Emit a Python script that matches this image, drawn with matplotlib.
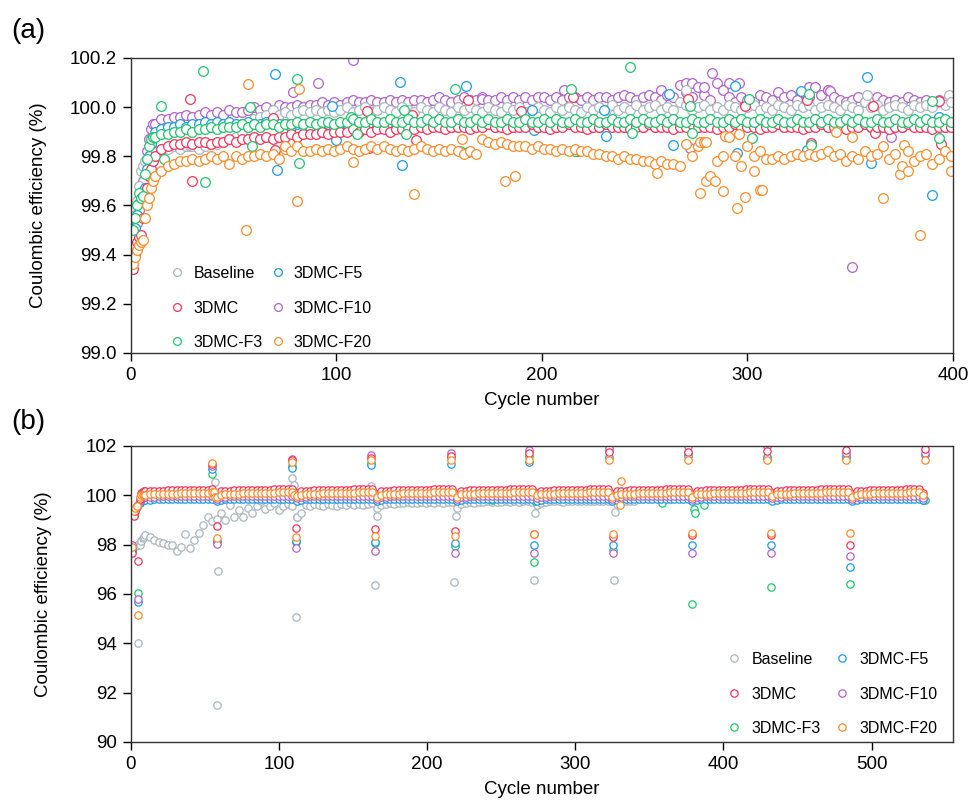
import numpy as np
import matplotlib.pyplot as plt

plt.rcParams['font.family'] = ['Liberation Sans', 'DejaVu Sans']

labels = ["Baseline", "3DMC", "3DMC-F3", "3DMC-F5", "3DMC-F10", "3DMC-F20"]
colors = ["#a9b6bf", "#f2355c", "#20c46c", "#1d9ce0", "#b064c9", "#f78d2c"]

# ---------------- (a) cycles 1-11 one by one, then every 3rd cycle ----------------
cyc_a = np.r_[1:12, 12:400:3]

base_a = [99.50, 99.56, 99.62, 99.68, 99.74, 99.76, 99.78, 99.79, 99.80, 99.81, 99.82,
          99.82, 99.83, 99.83, 99.84, 99.83, 99.84, 99.84, 99.83, 99.84, 99.85,
          99.85, 99.86, 99.87, 99.88, 99.90, 99.92, 99.95, 99.96, 99.97, 99.99,
          99.97, 99.98, 99.97, 99.98, 99.99, 99.98, 99.99, 99.98, 99.99, 99.98,
          99.99, 100.00, 99.98, 99.99, 100.00, 99.98, 99.99, 100.00, 99.99, 99.98,
          100.00, 99.99, 99.98, 100.00, 99.99, 99.98, 100.00, 99.99, 99.98, 100.00,
          99.99, 100.00, 99.99, 99.98, 100.00, 99.99, 99.98, 100.00, 99.99, 100.00,
          99.98, 99.99, 100.00, 99.99, 99.98, 100.00, 99.99, 100.00, 99.99, 99.98,
          100.00, 99.99, 100.00, 99.99, 100.01, 99.99, 100.00, 99.99, 100.01, 99.99,
          100.00, 100.01, 99.99, 100.00, 99.99, 100.02, 100.01, 99.99, 100.00, 100.01,
          99.99, 100.00, 99.99, 100.01, 100.00, 99.99, 100.00, 100.01, 99.99, 100.00,
          99.99, 100.01, 100.00, 99.99, 100.01, 100.00, 100.01, 99.99, 100.00, 100.01,
          100.00, 99.99, 100.01, 100.00, 99.99, 100.02, 100.00, 100.01, 99.99, 100.00,
          100.01, 100.00, 99.99, 100.01, 100.00, 100.01, 100.00, 100.02, 100.01, 100.02]
dmc_a = [99.34, 99.40, 99.45, 99.47, 99.48, 99.55, 99.62, 99.67, 99.72, 99.75, 99.78,
         99.80, 99.83, 99.84, 99.85, 99.85, 99.86, 99.85, 99.86, 99.86, 99.85,
         99.86, 99.86, 99.87, 99.86, 99.87, 99.87, 99.88, 99.87, 99.88, 99.87,
         99.88, 99.88, 99.89, 99.88, 99.89, 99.89, 99.89, 99.90, 99.89, 99.90,
         99.90, 99.90, 99.91, 99.90, 99.91, 99.90, 99.91, 99.91, 99.90, 99.91,
         99.91, 99.92, 99.91, 99.92, 99.91, 99.92, 99.92, 99.91, 99.92, 99.92,
         99.92, 99.91, 99.92, 99.92, 99.93, 99.92, 99.92, 99.91, 99.92, 99.92,
         99.92, 99.93, 99.92, 99.92, 99.91, 99.92, 99.92, 99.93, 99.92, 99.92,
         99.91, 99.92, 99.92, 99.93, 99.92, 99.92, 99.92, 99.91, 99.92, 99.92,
         99.93, 99.92, 99.92, 99.92, 99.91, 99.92, 99.92, 99.93, 99.92, 99.92,
         99.92, 99.91, 99.92, 99.92, 99.93, 99.92, 99.92, 99.92, 99.91, 99.92,
         99.92, 99.93, 99.92, 99.92, 99.92, 99.91, 99.92, 99.92, 99.93, 99.92,
         99.92, 99.92, 99.91, 99.92, 99.92, 99.93, 99.92, 99.92, 99.92, 99.91,
         99.92, 99.92, 99.93, 99.92, 99.92, 99.92, 99.91, 99.92, 99.92, 99.92]
f3_a = [99.50, 99.55, 99.60, 99.65, 99.63, 99.64, 99.73, 99.79, 99.84, 99.87, 99.88,
        99.88, 99.89, 99.89, 99.90, 99.90, 99.91, 99.90, 99.91, 99.91, 99.92,
        99.91, 99.92, 99.92, 99.92, 99.93, 99.92, 99.93, 99.92, 99.93, 99.93,
        99.92, 99.93, 99.93, 99.94, 99.93, 99.94, 99.93, 99.94, 99.94, 99.93,
        99.94, 99.94, 99.95, 99.94, 99.94, 99.95, 99.94, 99.94, 99.95, 99.94,
        99.94, 99.95, 99.94, 99.94, 99.95, 99.94, 99.95, 99.94, 99.94, 99.95,
        99.94, 99.94, 99.95, 99.94, 99.95, 99.94, 99.94, 99.95, 99.94, 99.94,
        99.95, 99.94, 99.94, 99.95, 99.94, 99.95, 99.94, 99.94, 99.95, 99.94,
        99.94, 99.95, 99.94, 99.94, 99.95, 99.94, 99.94, 99.95, 99.94, 99.95,
        99.94, 99.94, 99.95, 99.94, 99.95, 99.94, 99.94, 99.95, 99.94, 99.94,
        99.95, 99.94, 99.94, 99.95, 99.94, 99.95, 99.94, 99.94, 99.95, 99.94,
        99.94, 99.95, 99.94, 99.94, 99.95, 99.94, 99.94, 99.95, 99.94, 99.95,
        99.94, 99.94, 99.95, 99.94, 99.95, 99.94, 99.94, 99.95, 99.94, 99.94,
        99.95, 99.94, 99.94, 99.95, 99.94, 99.95, 99.94, 99.94, 99.95, 99.94]
f5_a = [99.47, 99.51, 99.56, 99.61, 99.64, 99.66, 99.67, 99.75, 99.80, 99.85, 99.88,
        99.90, 99.91, 99.92, 99.92, 99.93, 99.92, 99.93, 99.93, 99.94, 99.93,
        99.94, 99.93, 99.94, 99.93, 99.93, 99.94, 99.93, 99.93, 99.94, 99.93,
        99.93, 99.93, 99.92, 99.93, 99.93, 99.92, 99.93, 99.93, 99.93, 99.92,
        99.93, 99.93, 99.92, 99.93, 99.93, 99.93, 99.92, 99.93, 99.93, 99.92,
        99.93, 99.92, 99.93, 99.93, 99.92, 99.93, 99.93, 99.93, 99.92, 99.93,
        99.93, 99.92, 99.93, 99.93, 99.93, 99.92, 99.93, 99.93, 99.92, 99.93,
        99.93, 99.93, 99.92, 99.93, 99.93, 99.92, 99.93, 99.93, 99.93, 99.92,
        99.93, 99.93, 99.92, 99.93, 99.93, 99.93, 99.92, 99.93, 99.93, 99.92,
        99.93, 99.92, 99.93, 99.93, 99.92, 99.93, 99.93, 99.93, 99.92, 99.93,
        99.93, 99.92, 99.93, 99.93, 99.93, 99.92, 99.93, 99.93, 99.92, 99.93,
        99.93, 99.93, 99.92, 99.93, 99.93, 99.92, 99.93, 99.93, 99.93, 99.92,
        99.93, 99.93, 99.92, 99.93, 99.93, 99.93, 99.92, 99.93, 99.93, 99.92,
        99.93, 99.92, 99.93, 99.93, 99.92, 99.93, 99.93, 99.93, 99.92, 99.93]
f10_a = [99.44, 99.48, 99.53, 99.58, 99.64, 99.70, 99.76, 99.82, 99.87, 99.91, 99.93,
         99.93, 99.95, 99.95, 99.96, 99.96, 99.97, 99.96, 99.97, 99.98, 99.97,
         99.98, 99.97, 99.99, 99.98, 99.98, 99.99, 100.00, 99.99, 100.00, 99.99,
         100.01, 100.00, 100.00, 100.01, 100.00, 100.01, 100.01, 100.02, 100.01, 100.02,
         100.01, 100.02, 100.03, 100.02, 100.02, 100.03, 100.02, 100.02, 100.03, 100.02,
         100.03, 100.02, 100.03, 100.03, 100.02, 100.03, 100.04, 100.03, 100.02, 100.03,
         100.04, 100.03, 100.03, 100.04, 100.03, 100.03, 100.04, 100.03, 100.04, 100.03,
         100.04, 100.03, 100.04, 100.04, 100.03, 100.04, 100.03, 100.04, 100.04, 100.03,
         100.04, 100.03, 100.04, 100.04, 100.03, 100.04, 100.05, 100.04, 100.03, 100.04,
         100.05, 100.04, 100.03, 100.05, 100.04, 100.09, 100.06, 100.04, 100.08, 100.05,
         100.03, 100.10, 100.07, 100.04, 100.02, 100.04, 100.03, 100.02, 100.05, 100.04,
         100.03, 100.06, 100.04, 100.05, 100.03, 100.06, 100.04, 100.08, 100.05, 100.07,
         100.04, 100.03, 100.02, 100.03, 100.04, 100.02, 100.03, 100.04, 100.03, 100.02,
         100.03, 100.02, 100.04, 100.03, 100.02, 100.03, 100.01, 100.03, 100.02, 100.03]
f20_a = [99.36, 99.39, 99.42, 99.44, 99.45, 99.46, 99.55, 99.60, 99.63, 99.67, 99.70,
         99.72, 99.74, 99.76, 99.77, 99.78, 99.78, 99.79, 99.78, 99.79, 99.80,
         99.79, 99.80, 99.77, 99.80, 99.79, 99.80, 99.80, 99.81, 99.80, 99.81,
         99.79, 99.83, 99.82, 99.84, 99.82, 99.82, 99.83, 99.82, 99.83, 99.82,
         99.83, 99.84, 99.83, 99.82, 99.83, 99.84, 99.83, 99.84, 99.83, 99.82,
         99.83, 99.82, 99.83, 99.84, 99.83, 99.82, 99.83, 99.82, 99.83, 99.82,
         99.81, 99.82, 99.81, 99.87, 99.86, 99.85, 99.86, 99.85, 99.84, 99.84,
         99.84, 99.83, 99.84, 99.83, 99.83, 99.82, 99.83, 99.82, 99.83, 99.82,
         99.82, 99.81, 99.81, 99.80, 99.80, 99.79, 99.80, 99.79, 99.79, 99.78,
         99.78, 99.77, 99.78, 99.77, 99.77, 99.76, 99.85, 99.80, 99.84, 99.86,
         99.72, 99.78, 99.80, 99.88, 99.80, 99.76, 99.84, 99.80, 99.82, 99.79,
         99.79, 99.80, 99.79, 99.80, 99.81, 99.80, 99.81, 99.80, 99.81, 99.82,
         99.80, 99.81, 99.78, 99.80, 99.79, 99.82, 99.80, 99.81, 99.84, 99.79,
         99.81, 99.76, 99.82, 99.78, 99.80, 99.81, 99.77, 99.79, 99.82, 99.80]

# scattered single cycles of (a): (cycle, CE)
base_a_out = [(270, 100.07), (358, 100.05), (398, 100.05), (29, 99.84)]
dmc_a_out = [(29, 100.035), (30, 99.70), (69, 99.956), (70, 99.827), (115, 99.985),
             (116, 99.834), (137, 99.97), (139, 99.865), (164, 100.027), (190, 99.986),
             (215, 100.043), (217, 99.82), (271, 100.035), (299, 100.003), (329, 100.027),
             (331, 99.854), (361, 100.005), (362, 99.895), (393, 100.026), (394, 99.85)]
f3_a_out = [(15, 100.005), (16, 99.79), (35, 100.146), (36, 99.695), (58, 100.0),
            (59, 99.843), (81, 100.115), (82, 99.773), (107, 99.96), (110, 99.89),
            (133, 99.99), (134, 99.892), (158, 100.073), (160, 99.82), (214, 100.073),
            (216, 99.82), (243, 100.165), (244, 99.895), (272, 100.003), (273, 99.895),
            (301, 100.034), (302, 99.875), (330, 100.054), (331, 99.845), (390, 100.026),
            (393, 99.875)]
f5_a_out = [(70, 100.135), (71, 99.743), (98, 100.005), (100, 99.865), (131, 100.104),
            (132, 99.763), (163, 100.087), (164, 99.816), (195, 99.99), (196, 99.905),
            (230, 99.99), (231, 99.884), (262, 100.054), (264, 99.845), (294, 100.084),
            (295, 99.814), (326, 100.066), (329, 99.825), (358, 100.124), (360, 99.773),
            (390, 99.643), (393, 99.96)]
f10_a_out = [(79, 100.06), (91, 100.097), (108, 100.19), (171, 100.035), (211, 100.07),
             (258, 100.07), (270, 100.10), (273, 100.10), (279, 100.08), (283, 100.138),
             (291, 100.10), (296, 100.10), (272, 99.834), (330, 100.08), (339, 100.07),
             (340, 100.065), (351, 99.348), (370, 99.88)]
f20_a_out = [(56, 99.50), (57, 100.095), (75, 99.84), (81, 99.62), (82, 100.073),
             (108, 99.777), (138, 99.647), (161, 99.87), (182, 99.70), (187, 99.72),
             (256, 99.733), (277, 99.65), (277, 99.86), (280, 99.70), (280, 99.86),
             (284, 99.70), (288, 99.657), (289, 99.884), (295, 99.588), (296, 99.89),
             (299, 99.634), (303, 99.74), (306, 99.664), (307, 99.664), (343, 99.897),
             (351, 99.88), (366, 99.63), (374, 99.73), (376, 99.847), (378, 99.74),
             (384, 99.48), (399, 99.74)]

# ---------------- (b) cycles 1-9 one by one, then every 3rd cycle ----------------
cyc_b = np.r_[1:10, 10:536:3]
cyc_b_base = np.r_[1:10, 10:341:3]

base_b = [97.85, 97.90, 97.95, 97.98, 94.00, 98.00, 98.15, 98.25, 98.30,
          98.40, 98.30, 98.20, 98.10, 98.06, 97.97, 98.00, 97.76, 97.90, 98.42,
          97.85, 98.20, 98.46, 98.80, 99.13, 98.95, 99.05, 99.27, 99.00, 99.60,
          99.13, 99.40, 99.13, 99.50, 99.30, 99.57, 99.77, 99.45, 99.57, 99.70,
          99.40, 99.57, 99.65, 99.57, 99.13, 99.27, 99.60, 99.55, 99.65, 99.60,
          99.55, 99.65, 99.60, 99.55, 99.65, 99.60, 99.70, 99.60, 99.65, 99.60,
          99.65, 99.70, 99.50, 99.60, 99.65, 99.70, 99.65, 99.70, 99.68, 99.72,
          99.70, 99.68, 99.72, 99.70, 99.72, 99.68, 99.72, 99.70, 99.74, 99.72,
          99.50, 99.65, 99.70, 99.72, 99.70, 99.74, 99.72, 99.75, 99.72, 99.74,
          99.72, 99.75, 99.74, 99.76, 99.74, 99.75, 99.76, 99.74, 99.60, 99.70,
          99.74, 99.76, 99.75, 99.76, 99.74, 99.77, 99.75, 99.76, 99.77, 99.75,
          99.76, 99.77, 99.75, 99.77, 99.76, 99.78, 99.65, 99.72, 99.76, 99.78,
          99.78]
dmc_b = [97.68, 99.18, 99.35, 99.55, 97.35, 99.85, 100.10, 100.14, 100.16,
         100.17, 100.18, 100.18, 100.19, 100.19, 100.20, 100.20, 100.21, 100.21, 100.21,
         100.22, 100.22, 100.22, 100.23, 100.23, 100.24, 100.05, 100.17, 100.19, 100.19,
         100.20, 100.20, 100.21, 100.21, 100.22, 100.22, 100.22, 100.23, 100.23, 100.24,
         100.24, 100.24, 100.25, 100.25, 100.08, 100.17, 100.19, 100.19, 100.20, 100.21,
         100.21, 100.21, 100.22, 100.22, 100.23, 100.23, 100.23, 100.24, 100.24, 100.24,
         100.25, 100.25, 100.06, 100.17, 100.19, 100.19, 100.20, 100.21, 100.21, 100.22,
         100.22, 100.22, 100.23, 100.23, 100.23, 100.24, 100.24, 100.25, 100.25, 100.25,
         100.06, 100.17, 100.19, 100.20, 100.20, 100.21, 100.21, 100.22, 100.22, 100.23,
         100.23, 100.23, 100.24, 100.24, 100.24, 100.25, 100.25, 100.25, 100.08, 100.18,
         100.19, 100.19, 100.20, 100.21, 100.21, 100.22, 100.22, 100.23, 100.23, 100.23,
         100.24, 100.24, 100.24, 100.25, 100.25, 100.06, 100.17, 100.19, 100.19, 100.20,
         100.21, 100.21, 100.22, 100.22, 100.22, 100.23, 100.23, 100.24, 100.24, 100.24,
         100.25, 100.25, 100.25, 100.06, 100.18, 100.19, 100.20, 100.20, 100.21, 100.21,
         100.22, 100.22, 100.23, 100.23, 100.23, 100.24, 100.24, 100.24, 100.25, 100.25,
         100.25, 100.08, 100.18, 100.19, 100.20, 100.20, 100.21, 100.21, 100.22, 100.22,
         100.23, 100.23, 100.24, 100.24, 100.24, 100.25, 100.25, 100.25, 100.25, 100.06,
         100.17, 100.19, 100.19, 100.20, 100.21, 100.21, 100.22, 100.22, 100.23, 100.23,
         100.23, 100.24, 100.24, 100.25, 100.25, 100.10]
f3_b = [97.82, 99.22, 99.40, 99.55, 96.03, 99.72, 99.82, 99.85, 99.87,
        99.88, 99.88, 99.89, 99.89, 99.90, 99.90, 99.90, 99.90, 99.91, 99.91,
        99.91, 99.91, 99.92, 99.92, 99.92, 99.92, 99.80, 99.88, 99.89, 99.89,
        99.90, 99.90, 99.90, 99.91, 99.91, 99.91, 99.92, 99.92, 99.92, 99.92,
        99.93, 99.93, 99.93, 99.93, 99.82, 99.88, 99.89, 99.90, 99.90, 99.90,
        99.91, 99.91, 99.91, 99.92, 99.92, 99.92, 99.92, 99.93, 99.93, 99.93,
        99.93, 99.93, 99.80, 99.88, 99.89, 99.90, 99.90, 99.91, 99.91, 99.91,
        99.92, 99.92, 99.92, 99.92, 99.93, 99.93, 99.93, 99.93, 99.93, 99.93,
        99.80, 99.88, 99.89, 99.90, 99.90, 99.91, 99.91, 99.91, 99.92, 99.92,
        99.92, 99.92, 99.93, 99.93, 99.93, 99.93, 99.93, 99.93, 99.82, 99.88,
        99.89, 99.90, 99.90, 99.91, 99.91, 99.91, 99.92, 99.92, 99.92, 99.92,
        99.93, 99.93, 99.93, 99.93, 99.93, 99.80, 99.88, 99.89, 99.90, 99.90,
        99.91, 99.91, 99.91, 99.92, 99.92, 99.92, 99.92, 99.93, 99.93, 99.93,
        99.93, 99.93, 99.93, 99.80, 99.88, 99.89, 99.90, 99.90, 99.91, 99.91,
        99.91, 99.92, 99.92, 99.92, 99.92, 99.93, 99.93, 99.93, 99.93, 99.93,
        99.93, 99.82, 99.88, 99.89, 99.90, 99.90, 99.91, 99.91, 99.91, 99.92,
        99.92, 99.92, 99.92, 99.93, 99.93, 99.93, 99.93, 99.93, 99.93, 99.80,
        99.88, 99.89, 99.90, 99.90, 99.91, 99.91, 99.91, 99.92, 99.92, 99.92,
        99.92, 99.93, 99.93, 99.93, 99.93, 99.82]
f5_b = [97.75, 99.20, 99.38, 99.52, 95.68, 99.70, 99.76, 99.79, 99.81,
        99.82, 99.82, 99.83, 99.83, 99.83, 99.84, 99.84, 99.84, 99.84, 99.85,
        99.85, 99.85, 99.85, 99.85, 99.86, 99.86, 99.76, 99.82, 99.83, 99.83,
        99.83, 99.84, 99.84, 99.84, 99.84, 99.85, 99.85, 99.85, 99.85, 99.86,
        99.86, 99.86, 99.86, 99.86, 99.78, 99.82, 99.83, 99.83, 99.84, 99.84,
        99.84, 99.84, 99.85, 99.85, 99.85, 99.85, 99.86, 99.86, 99.86, 99.86,
        99.86, 99.86, 99.76, 99.82, 99.83, 99.83, 99.84, 99.84, 99.84, 99.85,
        99.85, 99.85, 99.85, 99.85, 99.86, 99.86, 99.86, 99.86, 99.86, 99.86,
        99.76, 99.82, 99.83, 99.83, 99.84, 99.84, 99.84, 99.85, 99.85, 99.85,
        99.85, 99.86, 99.86, 99.86, 99.86, 99.86, 99.86, 99.86, 99.78, 99.82,
        99.83, 99.83, 99.84, 99.84, 99.84, 99.85, 99.85, 99.85, 99.85, 99.86,
        99.86, 99.86, 99.86, 99.86, 99.86, 99.76, 99.82, 99.83, 99.83, 99.84,
        99.84, 99.84, 99.85, 99.85, 99.85, 99.85, 99.86, 99.86, 99.86, 99.86,
        99.86, 99.86, 99.86, 99.76, 99.82, 99.83, 99.83, 99.84, 99.84, 99.84,
        99.85, 99.85, 99.85, 99.85, 99.86, 99.86, 99.86, 99.86, 99.86, 99.86,
        99.86, 99.78, 99.82, 99.83, 99.83, 99.84, 99.84, 99.84, 99.85, 99.85,
        99.85, 99.85, 99.86, 99.86, 99.86, 99.86, 99.86, 99.86, 99.86, 99.76,
        99.82, 99.83, 99.83, 99.84, 99.84, 99.84, 99.85, 99.85, 99.85, 99.85,
        99.86, 99.86, 99.86, 99.86, 99.86, 99.80]
f10_b = [98.00, 99.25, 99.40, 99.55, 95.80, 99.75, 99.85, 99.90, 99.92,
         99.94, 99.95, 99.95, 99.96, 99.96, 99.96, 99.97, 99.97, 99.97, 99.97,
         99.98, 99.98, 99.98, 99.98, 99.99, 99.99, 99.85, 99.94, 99.95, 99.96,
         99.96, 99.97, 99.97, 99.97, 99.97, 99.98, 99.98, 99.98, 99.98, 99.99,
         99.99, 99.99, 99.99, 99.99, 99.88, 99.94, 99.95, 99.96, 99.96, 99.97,
         99.97, 99.97, 99.97, 99.98, 99.98, 99.98, 99.98, 99.99, 99.99, 99.99,
         99.99, 99.99, 99.86, 99.94, 99.95, 99.96, 99.96, 99.97, 99.97, 99.97,
         99.98, 99.98, 99.98, 99.98, 99.99, 99.99, 99.99, 99.99, 99.99, 99.99,
         99.86, 99.94, 99.95, 99.96, 99.96, 99.97, 99.97, 99.97, 99.98, 99.98,
         99.98, 99.98, 99.99, 99.99, 99.99, 99.99, 99.99, 99.99, 99.88, 99.94,
         99.95, 99.96, 99.96, 99.97, 99.97, 99.97, 99.98, 99.98, 99.98, 99.98,
         99.99, 99.99, 99.99, 99.99, 99.99, 99.86, 99.94, 99.95, 99.96, 99.96,
         99.97, 99.97, 99.97, 99.98, 99.98, 99.98, 99.98, 99.99, 99.99, 99.99,
         99.99, 99.99, 99.99, 99.86, 99.94, 99.95, 99.96, 99.96, 99.97, 99.97,
         99.97, 99.98, 99.98, 99.98, 99.98, 99.99, 99.99, 99.99, 99.99, 99.99,
         99.99, 99.88, 99.94, 99.95, 99.96, 99.96, 99.97, 99.97, 99.97, 99.98,
         99.98, 99.98, 99.98, 99.99, 99.99, 99.99, 99.99, 99.99, 99.99, 99.86,
         99.94, 99.95, 99.96, 99.96, 99.97, 99.97, 99.97, 99.98, 99.98, 99.98,
         99.98, 99.99, 99.99, 99.99, 99.99, 99.90]
f20_b = [97.92, 99.35, 99.50, 99.55, 95.15, 99.95, 100.00, 100.02, 100.03,
         100.03, 100.04, 100.05, 100.05, 100.06, 100.06, 100.07, 100.07, 100.08, 100.08,
         100.09, 100.09, 100.10, 100.10, 100.11, 100.12, 99.95, 100.03, 100.05, 100.06,
         100.06, 100.07, 100.08, 100.08, 100.09, 100.09, 100.10, 100.10, 100.11, 100.11,
         100.12, 100.12, 100.12, 100.13, 99.98, 100.03, 100.05, 100.06, 100.07, 100.07,
         100.08, 100.08, 100.09, 100.09, 100.10, 100.10, 100.11, 100.11, 100.12, 100.12,
         100.13, 100.12, 99.95, 100.03, 100.05, 100.06, 100.07, 100.07, 100.08, 100.09,
         100.09, 100.10, 100.10, 100.11, 100.11, 100.12, 100.12, 100.12, 100.13, 100.12,
         99.95, 100.04, 100.05, 100.06, 100.07, 100.08, 100.08, 100.09, 100.09, 100.10,
         100.10, 100.11, 100.11, 100.12, 100.12, 100.12, 100.13, 100.12, 100.00, 100.04,
         100.05, 100.06, 100.07, 100.08, 100.08, 100.09, 100.10, 100.10, 100.11, 100.11,
         100.12, 100.12, 100.12, 100.13, 100.12, 99.95, 100.03, 100.05, 100.06, 100.07,
         100.07, 100.08, 100.09, 100.09, 100.10, 100.10, 100.11, 100.11, 100.12, 100.12,
         100.12, 100.13, 100.12, 99.95, 100.04, 100.05, 100.06, 100.07, 100.08, 100.08,
         100.09, 100.09, 100.10, 100.10, 100.11, 100.11, 100.12, 100.12, 100.12, 100.13,
         100.12, 99.98, 100.04, 100.05, 100.06, 100.07, 100.08, 100.08, 100.09, 100.10,
         100.10, 100.11, 100.11, 100.12, 100.12, 100.12, 100.13, 100.12, 100.13, 99.95,
         100.03, 100.05, 100.06, 100.07, 100.08, 100.08, 100.09, 100.09, 100.10, 100.10,
         100.11, 100.11, 100.12, 100.12, 100.12, 100.00]

# rest-step spikes of (b): (cycle, CE)
base_b_out = [(57, 100.55), (58, 91.5), (59, 96.94), (109, 100.69), (110, 100.4),
              (111.5, 95.08), (112.5, 99.13), (162.5, 100.38), (165, 96.37), (166, 99.17),
              (218, 96.49), (219.8, 99.17), (272, 96.55), (273, 99.28), (326, 96.57),
              (326.6, 99.34)]
dmc_b_out = [(54.6, 101.25), (58.4, 98.77), (109, 101.42), (111.5, 98.69), (162, 101.5),
             (165, 98.62), (216, 101.6), (218.7, 98.55), (269, 101.7), (272, 98.45),
             (323, 101.75), (325.5, 98.3), (376, 101.75), (379, 98.40), (429.5, 101.8),
             (432, 98.40), (482.8, 101.84), (485.7, 98.0), (536, 101.86)]
f3_b_out = [(54.6, 100.86), (58.4, 98.1), (109, 101.2), (111.5, 98.1), (162, 101.3),
            (165, 98.08), (216, 101.55), (218.7, 97.95), (244, 99.80), (269, 101.6),
            (272, 97.28), (273, 99.77), (322.7, 101.8), (325.4, 97.8), (358.7, 99.68),
            (376, 101.7), (379, 95.58), (380, 99.45), (381, 99.28), (387, 99.6),
            (429.5, 101.5), (432, 96.3), (482.8, 101.5), (485.7, 96.39), (536, 99.8)]
f5_b_out = [(54.6, 101.05), (58.4, 98.15), (109, 101.1), (111.5, 98.15), (162, 101.23),
            (165, 98.10), (216, 101.25), (218.7, 98.06), (269, 101.35), (272, 98.0),
            (322.7, 101.55), (325.4, 98.0), (376, 101.6), (379, 97.99), (429.5, 101.55),
            (432, 98.0), (482.8, 101.6), (485.7, 97.1), (536, 101.65)]
f10_b_out = [(54.6, 101.2), (58.4, 98.03), (109, 101.47), (111.5, 97.88), (162, 101.64),
             (165, 97.76), (216, 101.73), (218.7, 97.67), (269, 101.84), (272, 97.65),
             (322.7, 101.9), (325.4, 97.65), (376, 102.0), (379, 97.65), (429.5, 102.0),
             (432, 97.65), (482.8, 101.7), (485.7, 97.55), (536, 101.7)]
f20_b_out = [(54.6, 101.32), (56, 100.15), (57, 99.95), (58.4, 98.26), (109, 101.37),
             (110, 100.0), (111.5, 98.3), (162, 101.43), (165, 98.33), (216, 101.43),
             (218.7, 98.35), (269, 101.43), (272, 98.42), (322.7, 101.43), (325.4, 98.43),
             (330, 99.6), (331, 100.58), (376, 101.43), (379, 98.46), (429.5, 101.45),
             (432, 98.49), (482.8, 101.43), (485.7, 98.46), (536, 101.43)]


def draw(ax, cyc, vals, extra, color, z, ms, label):
    assert len(cyc) == len(vals), (label, len(cyc), len(vals))
    x = np.concatenate([np.asarray(cyc, float), [p[0] for p in extra]])
    y = np.concatenate([np.asarray(vals, float), [p[1] for p in extra]])
    order = np.argsort(x, kind="stable")
    ax.plot(x[order], y[order], "o", ls="none", ms=ms, mfc="white", mec=color,
            mew=0.9, zorder=z, label=label)


def style(ax):
    for s in ax.spines.values():
        s.set_linewidth(1.0)
        s.set_color("#333333")
    ax.tick_params(direction="out", length=6, width=1.0, labelsize=13.5,
                   pad=4, top=False, right=False)


fig = plt.figure(figsize=(9.7, 8.05), dpi=100)
ax1 = fig.add_axes([0.1347, 0.5615, 0.8478, 0.3665])
ax2 = fig.add_axes([0.1347, 0.0783, 0.8478, 0.3677])

series_a = [(base_a, base_a_out), (dmc_a, dmc_a_out), (f3_a, f3_a_out),
            (f5_a, f5_a_out), (f10_a, f10_a_out), (f20_a, f20_a_out)]
z_a = [2.1, 2.3, 2.4, 2.2, 2.0, 2.5]
for (v, ex), c, z, lab in zip(series_a, colors, z_a, labels):
    draw(ax1, cyc_a, v, ex, c, z, 7.0, lab)

series_b = [(base_b, base_b_out), (dmc_b, dmc_b_out), (f3_b, f3_b_out),
            (f5_b, f5_b_out), (f10_b, f10_b_out), (f20_b, f20_b_out)]
z_b = [2.0, 2.4, 2.1, 2.2, 2.3, 2.5]
for i, ((v, ex), c, z, lab) in enumerate(zip(series_b, colors, z_b, labels)):
    cyc = cyc_b_base if i == 0 else cyc_b
    draw(ax2, cyc, v, ex, c, z, 5.3, lab)

ax1.set_xlim(0, 400)
ax1.set_ylim(99.0, 100.2)
ax1.set_xticks([0, 100, 200, 300, 400])
ax1.set_yticks(np.arange(99.0, 100.21, 0.2))
ax1.yaxis.set_major_formatter(plt.FormatStrFormatter("%.1f"))

ax2.set_xlim(0, 555)
ax2.set_ylim(90, 102)
ax2.set_xticks([0, 100, 200, 300, 400, 500])
ax2.set_yticks(np.arange(90, 103, 2))

for ax in (ax1, ax2):
    style(ax)
    ax.set_xlabel("Cycle number", fontsize=13.5, labelpad=6)
    ax.set_ylabel("Coulombic efficiency (%)", fontsize=13.5)
ax1.yaxis.set_label_coords(-0.102, 0.5)
ax2.yaxis.set_label_coords(-0.096, 0.5)

ax1.legend(ncol=2, loc="lower left", bbox_to_anchor=(0.0375, -0.017), frameon=False,
           fontsize=11.5, handlelength=1.0, handletextpad=0.5, columnspacing=0.45,
           labelspacing=1.22, borderpad=0.0, markerscale=0.8)
ax2.legend(ncol=2, loc="lower left", bbox_to_anchor=(0.7145, -0.007), frameon=False,
           fontsize=11.5, handlelength=1.0, handletextpad=0.6, columnspacing=0.8,
           labelspacing=1.22, borderpad=0.0, markerscale=1.0)

fig.text(0.012, 1 - 31 / 805, "(a)", fontsize=20, va="center", ha="left")
fig.text(0.012, 1 - 422 / 805, "(b)", fontsize=20, va="center", ha="left")

fig.savefig("out.png", dpi=100)
